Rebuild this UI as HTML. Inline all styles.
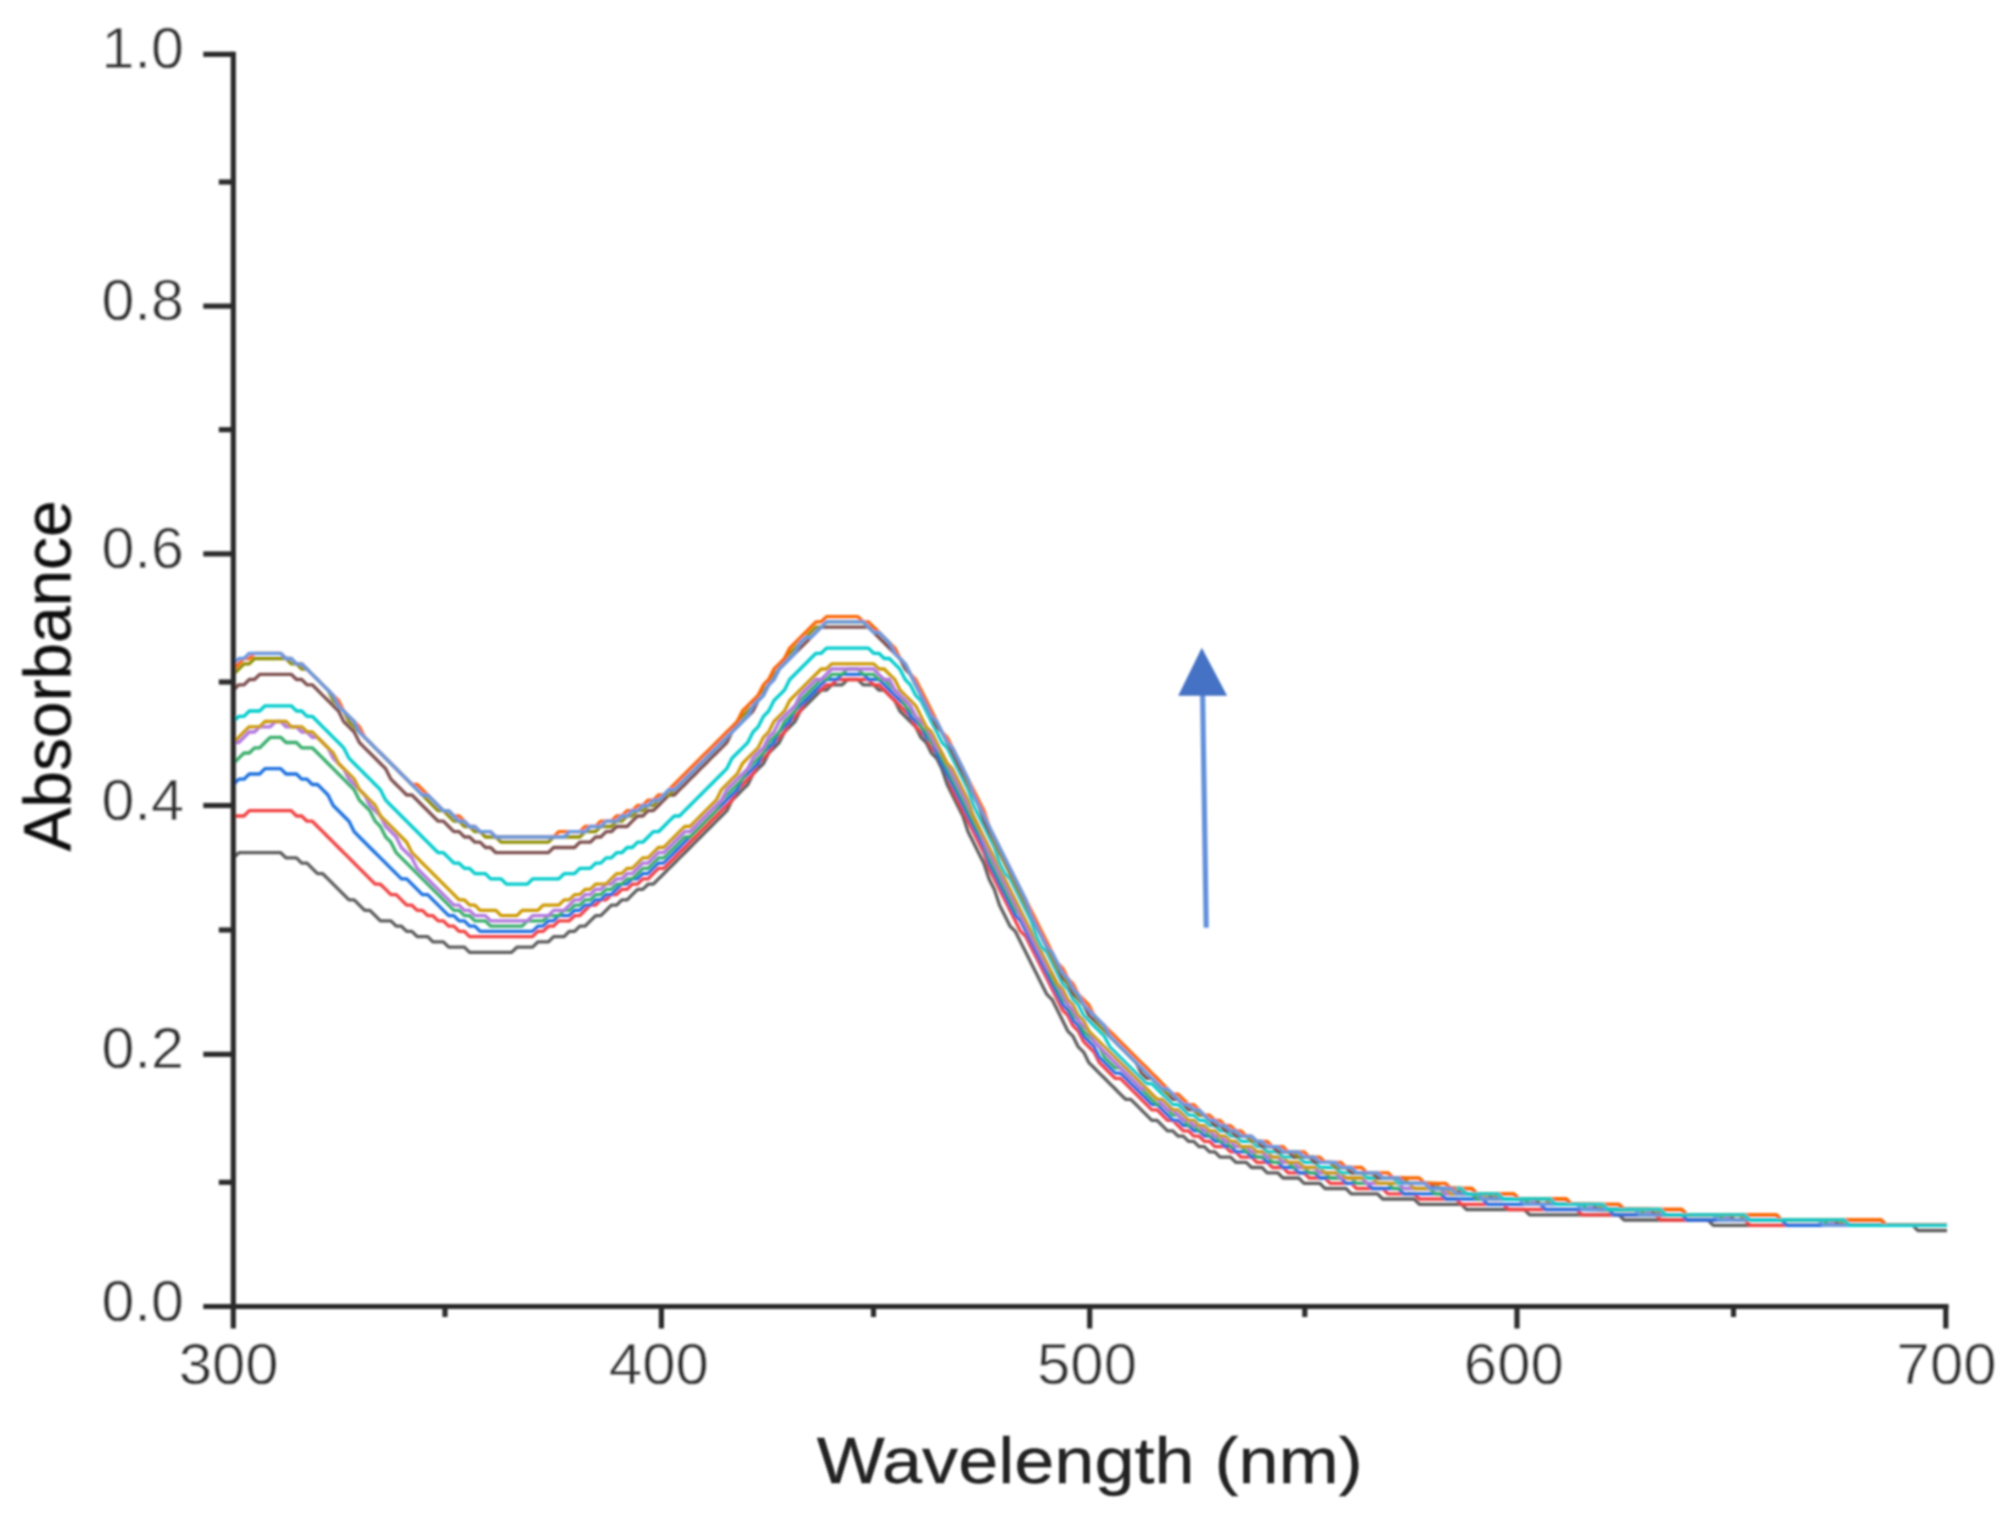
<!DOCTYPE html>
<html lang="en"><head><meta charset="utf-8"><title>UV-Vis absorbance spectra</title>
<style>html,body{margin:0;padding:0;background:#fff;overflow:hidden}svg{display:block}text{font-family:"Liberation Sans",sans-serif}</style></head><body>
<svg width="2015" height="1530" viewBox="0 0 2015 1530">
<defs><filter id="soft" x="-2%" y="-2%" width="104%" height="104%"><feGaussianBlur stdDeviation="1.1"/></filter></defs>
<rect width="2015" height="1530" fill="#fff"/>
<g filter="url(#soft)">
<g fill="none" stroke-width="3.3" stroke-linejoin="round" stroke-linecap="butt">
<path stroke="#5c5c5c" d="M233.5 857.9L238.8 852.7L280.7 852.7L286.0 857.9L296.5 857.9L301.7 863.2L307.0 863.2L312.2 868.4L317.5 873.7L322.7 873.7L328.0 878.9L333.2 884.2L338.5 889.4L343.7 894.7L349.0 899.9L354.2 899.9L359.4 905.2L364.7 910.4L369.9 910.4L375.2 915.7L380.4 920.9L390.9 920.9L396.2 926.2L401.4 926.2L406.7 931.4L411.9 931.4L417.2 936.7L427.7 936.7L432.9 941.9L443.4 941.9L448.7 947.2L464.4 947.2L469.6 952.4L511.6 952.4L516.9 947.2L532.6 947.2L537.9 941.9L548.4 941.9L553.6 936.7L564.1 936.7L569.3 931.4L574.6 931.4L579.8 926.2L585.1 926.2L590.3 920.9L595.6 915.7L600.8 915.7L606.1 910.4L611.3 905.2L616.6 905.2L621.8 899.9L627.1 899.9L632.3 894.7L637.6 889.4L642.8 889.4L648.1 884.2L653.3 884.2L658.5 878.9L663.8 873.7L669.0 868.4L674.3 863.2L679.5 857.9L684.8 852.7L690.0 847.5L695.3 842.2L700.5 837.0L705.8 831.7L711.0 826.5L716.3 821.2L721.5 816.0L726.8 810.7L732.0 800.2L737.3 795.0L742.5 789.7L747.8 784.5L753.0 774.0L758.2 768.7L763.5 763.5L768.7 753.0L774.0 747.8L779.2 742.5L784.5 732.0L789.7 726.8L795.0 721.5L800.2 711.0L805.5 705.8L810.7 700.5L816.0 695.3L821.2 690.0L826.5 690.0L831.7 684.8L842.2 684.8L847.5 679.5L857.9 679.5L863.2 684.8L873.7 684.8L878.9 690.0L884.2 690.0L889.4 695.3L894.7 700.5L899.9 711.0L905.2 716.3L910.4 721.5L915.7 726.8L920.9 737.3L926.2 742.5L931.4 753.0L936.7 758.2L941.9 768.7L947.2 784.5L952.4 795.0L957.6 805.5L962.9 816.0L968.1 831.7L973.4 842.2L978.6 852.7L983.9 863.2L989.1 878.9L994.4 889.4L999.6 905.2L1004.9 915.7L1010.1 926.2L1015.4 931.4L1020.6 941.9L1025.9 952.4L1031.1 962.9L1036.4 973.4L1041.6 983.9L1046.9 994.4L1052.1 999.6L1057.4 1010.1L1062.6 1020.6L1067.8 1031.1L1073.1 1036.4L1078.3 1046.9L1083.6 1052.1L1088.8 1062.6L1094.1 1067.8L1099.3 1073.1L1104.6 1078.3L1109.8 1083.6L1115.1 1088.8L1120.3 1094.1L1125.6 1099.3L1130.8 1099.3L1136.1 1104.6L1141.3 1109.8L1146.6 1115.1L1151.8 1120.3L1157.1 1120.3L1162.3 1125.6L1167.5 1130.8L1172.8 1130.8L1178.0 1136.1L1183.3 1136.1L1188.5 1141.3L1193.8 1141.3L1199.0 1146.6L1204.3 1146.6L1209.5 1151.8L1214.8 1151.8L1220.0 1157.1L1230.5 1157.1L1235.8 1162.3L1246.3 1162.3L1251.5 1167.5L1262.0 1167.5L1267.2 1172.8L1277.7 1172.8L1283.0 1178.0L1298.7 1178.0L1304.0 1183.3L1319.7 1183.3L1325.0 1188.5L1346.0 1188.5L1351.2 1193.8L1377.4 1193.8L1382.7 1199.0L1414.2 1199.0L1419.4 1204.3L1461.4 1204.3L1466.6 1209.5L1524.4 1209.5L1529.6 1214.8L1618.8 1214.8L1624.1 1220.0L1708.0 1220.0L1713.3 1225.3L1912.7 1225.3L1917.9 1230.5L1947.0 1230.5"/>
<path stroke="#F14040" d="M233.5 816.0L244.0 816.0L249.3 810.7L291.2 810.7L296.5 816.0L301.7 816.0L307.0 821.2L312.2 821.2L317.5 826.5L322.7 831.7L328.0 837.0L333.2 842.2L338.5 847.5L343.7 852.7L349.0 857.9L354.2 863.2L359.4 868.4L364.7 873.7L369.9 878.9L375.2 884.2L380.4 884.2L385.7 889.4L390.9 894.7L396.2 894.7L401.4 899.9L406.7 905.2L411.9 905.2L417.2 910.4L422.4 910.4L427.7 915.7L432.9 915.7L438.2 920.9L443.4 920.9L448.7 926.2L453.9 926.2L459.1 931.4L464.4 931.4L469.6 936.7L532.6 936.7L537.9 931.4L543.1 931.4L548.4 926.2L553.6 926.2L558.8 920.9L569.3 920.9L574.6 915.7L579.8 915.7L585.1 910.4L590.3 905.2L595.6 905.2L600.8 899.9L606.1 899.9L611.3 894.7L616.6 894.7L621.8 889.4L627.1 889.4L632.3 884.2L637.6 884.2L642.8 878.9L648.1 878.9L653.3 873.7L658.5 868.4L663.8 868.4L669.0 863.2L674.3 857.9L679.5 852.7L684.8 847.5L690.0 842.2L695.3 837.0L700.5 831.7L705.8 826.5L711.0 821.2L716.3 816.0L721.5 810.7L726.8 805.5L732.0 800.2L737.3 789.7L742.5 784.5L747.8 779.2L753.0 774.0L758.2 763.5L763.5 758.2L768.7 753.0L774.0 742.5L779.2 737.3L784.5 732.0L789.7 721.5L795.0 716.3L800.2 711.0L805.5 700.5L810.7 695.3L816.0 690.0L821.2 690.0L826.5 684.8L831.7 684.8L837.0 679.5L868.4 679.5L873.7 684.8L878.9 684.8L884.2 690.0L889.4 695.3L894.7 700.5L899.9 705.8L905.2 711.0L910.4 716.3L915.7 726.8L920.9 732.0L926.2 737.3L931.4 747.8L936.7 753.0L941.9 763.5L947.2 774.0L952.4 789.7L957.6 800.2L962.9 810.7L968.1 821.2L973.4 831.7L978.6 842.2L983.9 852.7L989.1 868.4L994.4 878.9L999.6 889.4L1004.9 899.9L1010.1 910.4L1015.4 920.9L1020.6 931.4L1025.9 936.7L1031.1 947.2L1036.4 957.6L1041.6 968.1L1046.9 978.6L1052.1 989.1L1057.4 999.6L1062.6 1010.1L1067.8 1015.4L1073.1 1025.9L1078.3 1031.1L1083.6 1041.6L1088.8 1046.9L1094.1 1052.1L1099.3 1062.6L1104.6 1067.8L1109.8 1073.1L1115.1 1078.3L1120.3 1078.3L1125.6 1083.6L1130.8 1088.8L1136.1 1094.1L1141.3 1099.3L1146.6 1104.6L1151.8 1109.8L1157.1 1109.8L1162.3 1115.1L1167.5 1120.3L1172.8 1120.3L1178.0 1125.6L1183.3 1130.8L1188.5 1130.8L1193.8 1136.1L1199.0 1136.1L1204.3 1141.3L1209.5 1141.3L1214.8 1146.6L1225.3 1146.6L1230.5 1151.8L1235.8 1151.8L1241.0 1157.1L1251.5 1157.1L1256.8 1162.3L1267.2 1162.3L1272.5 1167.5L1283.0 1167.5L1288.2 1172.8L1304.0 1172.8L1309.2 1178.0L1325.0 1178.0L1330.2 1183.3L1351.2 1183.3L1356.5 1188.5L1382.7 1188.5L1387.9 1193.8L1414.2 1193.8L1419.4 1199.0L1456.2 1199.0L1461.4 1204.3L1503.4 1204.3L1508.6 1209.5L1576.8 1209.5L1582.1 1214.8L1655.6 1214.8L1660.8 1220.0L1744.8 1220.0L1750.0 1225.3L1947.0 1225.3"/>
<path stroke="#1A6FDF" d="M233.5 784.5L238.8 779.2L244.0 779.2L249.3 774.0L259.7 774.0L265.0 768.7L280.7 768.7L286.0 774.0L296.5 774.0L301.7 779.2L307.0 779.2L312.2 784.5L317.5 784.5L322.7 789.7L328.0 795.0L333.2 805.5L338.5 810.7L343.7 816.0L349.0 821.2L354.2 831.7L359.4 837.0L364.7 842.2L369.9 847.5L375.2 852.7L380.4 857.9L385.7 863.2L390.9 868.4L396.2 873.7L401.4 878.9L406.7 878.9L411.9 884.2L417.2 889.4L422.4 894.7L427.7 894.7L432.9 899.9L438.2 905.2L443.4 910.4L448.7 915.7L453.9 915.7L459.1 920.9L464.4 920.9L469.6 926.2L474.9 926.2L480.1 931.4L532.6 931.4L537.9 926.2L543.1 926.2L548.4 920.9L553.6 920.9L558.8 915.7L569.3 915.7L574.6 910.4L579.8 910.4L585.1 905.2L590.3 905.2L595.6 899.9L600.8 899.9L606.1 894.7L611.3 894.7L616.6 889.4L621.8 884.2L627.1 884.2L632.3 878.9L637.6 878.9L642.8 873.7L648.1 873.7L653.3 868.4L658.5 863.2L663.8 863.2L669.0 857.9L674.3 852.7L679.5 847.5L684.8 842.2L690.0 837.0L695.3 831.7L700.5 826.5L705.8 821.2L711.0 816.0L716.3 810.7L721.5 805.5L726.8 800.2L732.0 795.0L737.3 789.7L742.5 779.2L747.8 774.0L753.0 768.7L758.2 763.5L763.5 753.0L768.7 747.8L774.0 742.5L779.2 732.0L784.5 726.8L789.7 721.5L795.0 711.0L800.2 705.8L805.5 700.5L810.7 695.3L816.0 690.0L821.2 684.8L826.5 679.5L837.0 679.5L842.2 674.3L863.2 674.3L868.4 679.5L878.9 679.5L884.2 684.8L889.4 690.0L894.7 695.3L899.9 700.5L905.2 705.8L910.4 716.3L915.7 721.5L920.9 726.8L926.2 737.3L931.4 742.5L936.7 753.0L941.9 763.5L947.2 774.0L952.4 784.5L957.6 795.0L962.9 805.5L968.1 816.0L973.4 826.5L978.6 837.0L983.9 847.5L989.1 863.2L994.4 873.7L999.6 884.2L1004.9 894.7L1010.1 905.2L1015.4 915.7L1020.6 920.9L1025.9 931.4L1031.1 941.9L1036.4 952.4L1041.6 962.9L1046.9 973.4L1052.1 983.9L1057.4 994.4L1062.6 1004.9L1067.8 1010.1L1073.1 1020.6L1078.3 1025.9L1083.6 1036.4L1088.8 1041.6L1094.1 1046.9L1099.3 1057.4L1104.6 1062.6L1109.8 1067.8L1115.1 1073.1L1120.3 1073.1L1125.6 1078.3L1130.8 1083.6L1136.1 1088.8L1141.3 1094.1L1146.6 1099.3L1151.8 1104.6L1157.1 1104.6L1162.3 1109.8L1167.5 1115.1L1172.8 1120.3L1178.0 1120.3L1183.3 1125.6L1188.5 1125.6L1193.8 1130.8L1199.0 1130.8L1204.3 1136.1L1209.5 1136.1L1214.8 1141.3L1220.0 1141.3L1225.3 1146.6L1230.5 1146.6L1235.8 1151.8L1246.3 1151.8L1251.5 1157.1L1262.0 1157.1L1267.2 1162.3L1277.7 1162.3L1283.0 1167.5L1293.5 1167.5L1298.7 1172.8L1314.5 1172.8L1319.7 1178.0L1340.7 1178.0L1346.0 1183.3L1366.9 1183.3L1372.2 1188.5L1398.4 1188.5L1403.7 1193.8L1440.4 1193.8L1445.7 1199.0L1482.4 1199.0L1487.6 1204.3L1540.1 1204.3L1545.4 1209.5L1608.3 1209.5L1613.6 1214.8L1681.8 1214.8L1687.0 1220.0L1781.5 1220.0L1786.7 1225.3L1947.0 1225.3"/>
<path stroke="#37AD6B" d="M233.5 763.5L238.8 758.2L244.0 753.0L249.3 753.0L254.5 747.8L259.7 747.8L265.0 742.5L270.2 737.3L280.7 737.3L286.0 742.5L296.5 742.5L301.7 747.8L312.2 747.8L317.5 753.0L322.7 758.2L328.0 763.5L333.2 768.7L338.5 774.0L343.7 779.2L349.0 784.5L354.2 789.7L359.4 800.2L364.7 805.5L369.9 810.7L375.2 821.2L380.4 826.5L385.7 837.0L390.9 842.2L396.2 852.7L401.4 857.9L406.7 863.2L411.9 868.4L417.2 873.7L422.4 878.9L427.7 884.2L432.9 889.4L438.2 894.7L443.4 899.9L448.7 905.2L453.9 910.4L459.1 910.4L464.4 915.7L469.6 915.7L474.9 920.9L485.4 920.9L490.6 926.2L522.1 926.2L527.4 920.9L543.1 920.9L548.4 915.7L558.8 915.7L564.1 910.4L569.3 910.4L574.6 905.2L579.8 905.2L585.1 899.9L590.3 899.9L595.6 894.7L600.8 894.7L606.1 889.4L611.3 889.4L616.6 884.2L621.8 884.2L627.1 878.9L632.3 878.9L637.6 873.7L642.8 868.4L648.1 868.4L653.3 863.2L658.5 857.9L663.8 857.9L669.0 852.7L674.3 847.5L679.5 842.2L684.8 837.0L690.0 837.0L695.3 831.7L700.5 826.5L705.8 821.2L711.0 816.0L716.3 810.7L721.5 800.2L726.8 795.0L732.0 789.7L737.3 784.5L742.5 779.2L747.8 768.7L753.0 763.5L758.2 758.2L763.5 753.0L768.7 742.5L774.0 737.3L779.2 732.0L784.5 721.5L789.7 716.3L795.0 711.0L800.2 700.5L805.5 695.3L810.7 690.0L816.0 684.8L821.2 679.5L826.5 679.5L831.7 674.3L842.2 674.3L847.5 669.0L857.9 669.0L863.2 674.3L873.7 674.3L878.9 679.5L884.2 679.5L889.4 684.8L894.7 690.0L899.9 695.3L905.2 705.8L910.4 711.0L915.7 716.3L920.9 726.8L926.2 732.0L931.4 742.5L936.7 747.8L941.9 758.2L947.2 768.7L952.4 779.2L957.6 789.7L962.9 800.2L968.1 810.7L973.4 821.2L978.6 831.7L983.9 842.2L989.1 857.9L994.4 868.4L999.6 878.9L1004.9 889.4L1010.1 899.9L1015.4 910.4L1020.6 915.7L1025.9 926.2L1031.1 936.7L1036.4 947.2L1041.6 957.6L1046.9 968.1L1052.1 978.6L1057.4 989.1L1062.6 999.6L1067.8 1004.9L1073.1 1015.4L1078.3 1020.6L1083.6 1031.1L1088.8 1036.4L1094.1 1041.6L1099.3 1046.9L1104.6 1057.4L1109.8 1062.6L1115.1 1067.8L1120.3 1067.8L1125.6 1073.1L1130.8 1078.3L1136.1 1083.6L1141.3 1088.8L1146.6 1094.1L1151.8 1099.3L1157.1 1104.6L1162.3 1104.6L1167.5 1109.8L1172.8 1115.1L1178.0 1115.1L1183.3 1120.3L1188.5 1125.6L1193.8 1125.6L1199.0 1130.8L1204.3 1130.8L1209.5 1136.1L1214.8 1136.1L1220.0 1141.3L1225.3 1141.3L1230.5 1146.6L1241.0 1146.6L1246.3 1151.8L1251.5 1151.8L1256.8 1157.1L1267.2 1157.1L1272.5 1162.3L1288.2 1162.3L1293.5 1167.5L1304.0 1167.5L1309.2 1172.8L1325.0 1172.8L1330.2 1178.0L1351.2 1178.0L1356.5 1183.3L1387.9 1183.3L1393.2 1188.5L1429.9 1188.5L1435.2 1193.8L1471.9 1193.8L1477.1 1199.0L1524.4 1199.0L1529.6 1204.3L1582.1 1204.3L1587.3 1209.5L1639.8 1209.5L1645.1 1214.8L1718.5 1214.8L1723.8 1220.0L1823.5 1220.0L1828.7 1225.3L1947.0 1225.3"/>
<path stroke="#B177DE" d="M233.5 742.5L238.8 742.5L244.0 737.3L249.3 732.0L254.5 732.0L259.7 726.8L270.2 726.8L275.5 721.5L280.7 721.5L286.0 726.8L296.5 726.8L301.7 732.0L307.0 732.0L312.2 737.3L317.5 737.3L322.7 742.5L328.0 747.8L333.2 758.2L338.5 763.5L343.7 768.7L349.0 779.2L354.2 784.5L359.4 789.7L364.7 795.0L369.9 805.5L375.2 810.7L380.4 816.0L385.7 826.5L390.9 831.7L396.2 837.0L401.4 847.5L406.7 852.7L411.9 857.9L417.2 868.4L422.4 873.7L427.7 878.9L432.9 884.2L438.2 889.4L443.4 894.7L448.7 899.9L453.9 905.2L459.1 905.2L464.4 910.4L469.6 910.4L474.9 915.7L485.4 915.7L490.6 920.9L527.4 920.9L532.6 915.7L548.4 915.7L553.6 910.4L564.1 910.4L569.3 905.2L574.6 899.9L579.8 899.9L585.1 894.7L590.3 894.7L595.6 889.4L600.8 889.4L606.1 884.2L611.3 884.2L616.6 878.9L621.8 878.9L627.1 873.7L632.3 873.7L637.6 868.4L642.8 863.2L648.1 863.2L653.3 857.9L658.5 852.7L663.8 852.7L669.0 847.5L674.3 842.2L679.5 837.0L684.8 831.7L690.0 831.7L695.3 826.5L700.5 821.2L705.8 816.0L711.0 810.7L716.3 805.5L721.5 800.2L726.8 789.7L732.0 784.5L737.3 779.2L742.5 774.0L747.8 768.7L753.0 758.2L758.2 753.0L763.5 747.8L768.7 737.3L774.0 732.0L779.2 721.5L784.5 716.3L789.7 711.0L795.0 705.8L800.2 695.3L805.5 690.0L810.7 684.8L816.0 679.5L821.2 679.5L826.5 674.3L831.7 669.0L873.7 669.0L878.9 674.3L884.2 679.5L889.4 679.5L894.7 690.0L899.9 695.3L905.2 700.5L910.4 705.8L915.7 716.3L920.9 721.5L926.2 726.8L931.4 737.3L936.7 747.8L941.9 753.0L947.2 763.5L952.4 774.0L957.6 784.5L962.9 795.0L968.1 805.5L973.4 816.0L978.6 826.5L983.9 842.2L989.1 852.7L994.4 863.2L999.6 873.7L1004.9 884.2L1010.1 894.7L1015.4 905.2L1020.6 915.7L1025.9 926.2L1031.1 936.7L1036.4 947.2L1041.6 957.6L1046.9 968.1L1052.1 973.4L1057.4 983.9L1062.6 994.4L1067.8 1004.9L1073.1 1010.1L1078.3 1020.6L1083.6 1025.9L1088.8 1031.1L1094.1 1041.6L1099.3 1046.9L1104.6 1052.1L1109.8 1057.4L1115.1 1062.6L1120.3 1067.8L1125.6 1073.1L1130.8 1078.3L1136.1 1083.6L1141.3 1088.8L1146.6 1088.8L1151.8 1094.1L1157.1 1099.3L1162.3 1104.6L1167.5 1109.8L1172.8 1109.8L1178.0 1115.1L1183.3 1120.3L1188.5 1120.3L1193.8 1125.6L1199.0 1125.6L1204.3 1130.8L1209.5 1130.8L1214.8 1136.1L1220.0 1136.1L1225.3 1141.3L1230.5 1141.3L1235.8 1146.6L1246.3 1146.6L1251.5 1151.8L1262.0 1151.8L1267.2 1157.1L1277.7 1157.1L1283.0 1162.3L1293.5 1162.3L1298.7 1167.5L1314.5 1167.5L1319.7 1172.8L1335.5 1172.8L1340.7 1178.0L1361.7 1178.0L1366.9 1183.3L1398.4 1183.3L1403.7 1188.5L1440.4 1188.5L1445.7 1193.8L1477.1 1193.8L1482.4 1199.0L1529.6 1199.0L1534.9 1204.3L1587.3 1204.3L1592.6 1209.5L1645.1 1209.5L1650.3 1214.8L1723.8 1214.8L1729.0 1220.0L1828.7 1220.0L1834.0 1225.3L1947.0 1225.3"/>
<path stroke="#CC9900" d="M233.5 742.5L238.8 737.3L244.0 732.0L249.3 726.8L259.7 726.8L265.0 721.5L286.0 721.5L291.2 726.8L301.7 726.8L307.0 732.0L312.2 732.0L317.5 737.3L322.7 742.5L328.0 747.8L333.2 753.0L338.5 763.5L343.7 768.7L349.0 774.0L354.2 779.2L359.4 789.7L364.7 795.0L369.9 800.2L375.2 805.5L380.4 816.0L385.7 821.2L390.9 826.5L396.2 831.7L401.4 837.0L406.7 842.2L411.9 852.7L417.2 857.9L422.4 863.2L427.7 868.4L432.9 873.7L438.2 878.9L443.4 884.2L448.7 889.4L453.9 894.7L459.1 899.9L464.4 899.9L469.6 905.2L474.9 905.2L480.1 910.4L495.9 910.4L501.1 915.7L516.9 915.7L522.1 910.4L537.9 910.4L543.1 905.2L558.8 905.2L564.1 899.9L569.3 899.9L574.6 894.7L579.8 894.7L585.1 889.4L590.3 889.4L595.6 884.2L606.1 884.2L611.3 878.9L616.6 873.7L621.8 873.7L627.1 868.4L632.3 868.4L637.6 863.2L642.8 857.9L648.1 857.9L653.3 852.7L658.5 847.5L663.8 847.5L669.0 842.2L674.3 837.0L679.5 831.7L684.8 826.5L690.0 826.5L695.3 821.2L700.5 816.0L705.8 810.7L711.0 805.5L716.3 800.2L721.5 789.7L726.8 784.5L732.0 779.2L737.3 774.0L742.5 763.5L747.8 758.2L753.0 753.0L758.2 747.8L763.5 737.3L768.7 732.0L774.0 721.5L779.2 716.3L784.5 711.0L789.7 700.5L795.0 695.3L800.2 690.0L805.5 684.8L810.7 679.5L816.0 674.3L821.2 669.0L826.5 669.0L831.7 663.8L873.7 663.8L878.9 669.0L884.2 669.0L889.4 674.3L894.7 679.5L899.9 690.0L905.2 695.3L910.4 700.5L915.7 705.8L920.9 716.3L926.2 726.8L931.4 732.0L936.7 742.5L941.9 753.0L947.2 763.5L952.4 768.7L957.6 779.2L962.9 789.7L968.1 800.2L973.4 816.0L978.6 826.5L983.9 837.0L989.1 847.5L994.4 857.9L999.6 868.4L1004.9 878.9L1010.1 889.4L1015.4 899.9L1020.6 910.4L1025.9 920.9L1031.1 931.4L1036.4 941.9L1041.6 952.4L1046.9 962.9L1052.1 973.4L1057.4 983.9L1062.6 989.1L1067.8 999.6L1073.1 1004.9L1078.3 1015.4L1083.6 1020.6L1088.8 1031.1L1094.1 1036.4L1099.3 1041.6L1104.6 1046.9L1109.8 1052.1L1115.1 1057.4L1120.3 1062.6L1125.6 1067.8L1130.8 1073.1L1136.1 1078.3L1141.3 1083.6L1146.6 1088.8L1151.8 1094.1L1157.1 1099.3L1162.3 1099.3L1167.5 1104.6L1172.8 1109.8L1178.0 1109.8L1183.3 1115.1L1188.5 1120.3L1193.8 1120.3L1199.0 1125.6L1204.3 1125.6L1209.5 1130.8L1214.8 1130.8L1220.0 1136.1L1225.3 1136.1L1230.5 1141.3L1235.8 1141.3L1241.0 1146.6L1251.5 1146.6L1256.8 1151.8L1267.2 1151.8L1272.5 1157.1L1283.0 1157.1L1288.2 1162.3L1298.7 1162.3L1304.0 1167.5L1319.7 1167.5L1325.0 1172.8L1340.7 1172.8L1346.0 1178.0L1372.2 1178.0L1377.4 1183.3L1408.9 1183.3L1414.2 1188.5L1445.7 1188.5L1450.9 1193.8L1482.4 1193.8L1487.6 1199.0L1534.9 1199.0L1540.1 1204.3L1592.6 1204.3L1597.8 1209.5L1650.3 1209.5L1655.6 1214.8L1729.0 1214.8L1734.3 1220.0L1834.0 1220.0L1839.2 1225.3L1947.0 1225.3"/>
<path stroke="#00CBCC" d="M233.5 721.5L238.8 716.3L244.0 716.3L249.3 711.0L259.7 711.0L265.0 705.8L291.2 705.8L296.5 711.0L301.7 711.0L307.0 716.3L312.2 716.3L317.5 721.5L322.7 726.8L328.0 732.0L333.2 737.3L338.5 742.5L343.7 747.8L349.0 758.2L354.2 763.5L359.4 768.7L364.7 774.0L369.9 779.2L375.2 784.5L380.4 789.7L385.7 800.2L390.9 805.5L396.2 810.7L401.4 816.0L406.7 821.2L411.9 826.5L417.2 831.7L422.4 837.0L427.7 842.2L432.9 847.5L438.2 852.7L443.4 852.7L448.7 857.9L453.9 863.2L459.1 863.2L464.4 868.4L469.6 868.4L474.9 873.7L485.4 873.7L490.6 878.9L501.1 878.9L506.4 884.2L527.4 884.2L532.6 878.9L558.8 878.9L564.1 873.7L574.6 873.7L579.8 868.4L590.3 868.4L595.6 863.2L600.8 863.2L606.1 857.9L611.3 857.9L616.6 852.7L621.8 852.7L627.1 847.5L632.3 847.5L637.6 842.2L642.8 842.2L648.1 837.0L653.3 831.7L658.5 831.7L663.8 826.5L669.0 821.2L674.3 816.0L679.5 816.0L684.8 810.7L690.0 805.5L695.3 800.2L700.5 795.0L705.8 789.7L711.0 784.5L716.3 779.2L721.5 774.0L726.8 768.7L732.0 758.2L737.3 753.0L742.5 747.8L747.8 742.5L753.0 732.0L758.2 726.8L763.5 716.3L768.7 711.0L774.0 700.5L779.2 695.3L784.5 690.0L789.7 679.5L795.0 674.3L800.2 669.0L805.5 663.8L810.7 658.5L816.0 653.3L821.2 653.3L826.5 648.1L868.4 648.1L873.7 653.3L878.9 653.3L884.2 658.5L889.4 658.5L894.7 663.8L899.9 669.0L905.2 679.5L910.4 684.8L915.7 695.3L920.9 700.5L926.2 711.0L931.4 721.5L936.7 732.0L941.9 742.5L947.2 747.8L952.4 758.2L957.6 768.7L962.9 779.2L968.1 789.7L973.4 805.5L978.6 816.0L983.9 826.5L989.1 837.0L994.4 847.5L999.6 863.2L1004.9 873.7L1010.1 878.9L1015.4 889.4L1020.6 899.9L1025.9 910.4L1031.1 920.9L1036.4 936.7L1041.6 947.2L1046.9 952.4L1052.1 962.9L1057.4 973.4L1062.6 983.9L1067.8 989.1L1073.1 999.6L1078.3 1004.9L1083.6 1015.4L1088.8 1020.6L1094.1 1025.9L1099.3 1031.1L1104.6 1036.4L1109.8 1046.9L1115.1 1052.1L1120.3 1057.4L1125.6 1062.6L1130.8 1067.8L1136.1 1073.1L1141.3 1078.3L1146.6 1083.6L1151.8 1083.6L1157.1 1088.8L1162.3 1094.1L1167.5 1099.3L1172.8 1104.6L1178.0 1104.6L1183.3 1109.8L1188.5 1115.1L1193.8 1115.1L1199.0 1120.3L1204.3 1120.3L1209.5 1125.6L1214.8 1125.6L1220.0 1130.8L1225.3 1130.8L1230.5 1136.1L1235.8 1136.1L1241.0 1141.3L1251.5 1141.3L1256.8 1146.6L1262.0 1146.6L1267.2 1151.8L1277.7 1151.8L1283.0 1157.1L1298.7 1157.1L1304.0 1162.3L1314.5 1162.3L1319.7 1167.5L1335.5 1167.5L1340.7 1172.8L1361.7 1172.8L1366.9 1178.0L1393.2 1178.0L1398.4 1183.3L1429.9 1183.3L1435.2 1188.5L1461.4 1188.5L1466.6 1193.8L1498.1 1193.8L1503.4 1199.0L1550.6 1199.0L1555.9 1204.3L1603.1 1204.3L1608.3 1209.5L1660.8 1209.5L1666.0 1214.8L1744.8 1214.8L1750.0 1220.0L1844.5 1220.0L1849.7 1225.3L1947.0 1225.3"/>
<path stroke="#7D4E4E" d="M233.5 690.0L238.8 684.8L244.0 684.8L249.3 679.5L254.5 679.5L259.7 674.3L291.2 674.3L296.5 679.5L301.7 679.5L307.0 684.8L312.2 684.8L317.5 690.0L322.7 695.3L328.0 700.5L333.2 705.8L338.5 711.0L343.7 721.5L349.0 726.8L354.2 732.0L359.4 742.5L364.7 747.8L369.9 753.0L375.2 758.2L380.4 763.5L385.7 768.7L390.9 779.2L396.2 784.5L401.4 789.7L406.7 795.0L411.9 795.0L417.2 800.2L422.4 805.5L427.7 810.7L432.9 816.0L438.2 821.2L443.4 821.2L448.7 826.5L453.9 831.7L459.1 831.7L464.4 837.0L469.6 837.0L474.9 842.2L480.1 842.2L485.4 847.5L490.6 847.5L495.9 852.7L548.4 852.7L553.6 847.5L574.6 847.5L579.8 842.2L590.3 842.2L595.6 837.0L600.8 837.0L606.1 831.7L611.3 831.7L616.6 826.5L627.1 826.5L632.3 821.2L637.6 816.0L642.8 816.0L648.1 810.7L653.3 810.7L658.5 805.5L663.8 800.2L669.0 795.0L674.3 795.0L679.5 789.7L684.8 784.5L690.0 779.2L695.3 774.0L700.5 768.7L705.8 763.5L711.0 758.2L716.3 753.0L721.5 747.8L726.8 742.5L732.0 732.0L737.3 726.8L742.5 721.5L747.8 716.3L753.0 711.0L758.2 700.5L763.5 695.3L768.7 684.8L774.0 679.5L779.2 669.0L784.5 663.8L789.7 658.5L795.0 653.3L800.2 648.1L805.5 642.8L810.7 637.6L816.0 632.3L821.2 627.1L868.4 627.1L873.7 632.3L878.9 637.6L884.2 642.8L889.4 648.1L894.7 653.3L899.9 658.5L905.2 669.0L910.4 674.3L915.7 684.8L920.9 695.3L926.2 705.8L931.4 716.3L936.7 726.8L941.9 732.0L947.2 742.5L952.4 753.0L957.6 763.5L962.9 774.0L968.1 784.5L973.4 795.0L978.6 805.5L983.9 821.2L989.1 831.7L994.4 842.2L999.6 852.7L1004.9 863.2L1010.1 873.7L1015.4 884.2L1020.6 894.7L1025.9 905.2L1031.1 915.7L1036.4 926.2L1041.6 936.7L1046.9 947.2L1052.1 957.6L1057.4 968.1L1062.6 978.6L1067.8 983.9L1073.1 994.4L1078.3 999.6L1083.6 1004.9L1088.8 1015.4L1094.1 1020.6L1099.3 1025.9L1104.6 1031.1L1109.8 1036.4L1115.1 1041.6L1120.3 1046.9L1125.6 1052.1L1130.8 1057.4L1136.1 1062.6L1141.3 1073.1L1146.6 1078.3L1151.8 1078.3L1157.1 1083.6L1162.3 1088.8L1167.5 1094.1L1172.8 1099.3L1178.0 1099.3L1183.3 1104.6L1188.5 1109.8L1193.8 1109.8L1199.0 1115.1L1204.3 1115.1L1209.5 1120.3L1214.8 1125.6L1220.0 1125.6L1225.3 1130.8L1230.5 1130.8L1235.8 1136.1L1246.3 1136.1L1251.5 1141.3L1256.8 1141.3L1262.0 1146.6L1272.5 1146.6L1277.7 1151.8L1288.2 1151.8L1293.5 1157.1L1309.2 1157.1L1314.5 1162.3L1330.2 1162.3L1335.5 1167.5L1346.0 1167.5L1351.2 1172.8L1372.2 1172.8L1377.4 1178.0L1398.4 1178.0L1403.7 1183.3L1429.9 1183.3L1435.2 1188.5L1456.2 1188.5L1461.4 1193.8L1487.6 1193.8L1492.9 1199.0L1534.9 1199.0L1540.1 1204.3L1592.6 1204.3L1597.8 1209.5L1650.3 1209.5L1655.6 1214.8L1729.0 1214.8L1734.3 1220.0L1834.0 1220.0L1839.2 1225.3L1947.0 1225.3"/>
<path stroke="#8E8E00" d="M233.5 674.3L238.8 669.0L244.0 663.8L249.3 663.8L254.5 658.5L286.0 658.5L291.2 663.8L296.5 663.8L301.7 669.0L307.0 669.0L312.2 674.3L317.5 679.5L322.7 684.8L328.0 690.0L333.2 700.5L338.5 705.8L343.7 711.0L349.0 721.5L354.2 726.8L359.4 732.0L364.7 737.3L369.9 742.5L375.2 747.8L380.4 753.0L385.7 758.2L390.9 763.5L396.2 768.7L401.4 774.0L406.7 779.2L411.9 784.5L417.2 789.7L422.4 795.0L427.7 800.2L432.9 805.5L438.2 810.7L443.4 810.7L448.7 816.0L453.9 821.2L459.1 821.2L464.4 826.5L469.6 826.5L474.9 831.7L480.1 831.7L485.4 837.0L495.9 837.0L501.1 842.2L548.4 842.2L553.6 837.0L579.8 837.0L585.1 831.7L595.6 831.7L600.8 826.5L611.3 826.5L616.6 821.2L621.8 821.2L627.1 816.0L632.3 816.0L637.6 810.7L642.8 810.7L648.1 805.5L653.3 805.5L658.5 800.2L663.8 795.0L669.0 795.0L674.3 789.7L679.5 784.5L684.8 779.2L690.0 774.0L695.3 768.7L700.5 763.5L705.8 758.2L711.0 753.0L716.3 747.8L721.5 742.5L726.8 737.3L732.0 732.0L737.3 721.5L742.5 716.3L747.8 711.0L753.0 705.8L758.2 695.3L763.5 690.0L768.7 684.8L774.0 674.3L779.2 669.0L784.5 658.5L789.7 653.3L795.0 648.1L800.2 642.8L805.5 637.6L810.7 632.3L816.0 627.1L821.2 627.1L826.5 621.8L863.2 621.8L868.4 627.1L873.7 627.1L878.9 632.3L884.2 637.6L889.4 642.8L894.7 648.1L899.9 658.5L905.2 663.8L910.4 674.3L915.7 684.8L920.9 690.0L926.2 700.5L931.4 711.0L936.7 721.5L941.9 732.0L947.2 742.5L952.4 747.8L957.6 758.2L962.9 768.7L968.1 784.5L973.4 795.0L978.6 805.5L983.9 816.0L989.1 826.5L994.4 842.2L999.6 852.7L1004.9 863.2L1010.1 873.7L1015.4 884.2L1020.6 894.7L1025.9 905.2L1031.1 915.7L1036.4 926.2L1041.6 936.7L1046.9 947.2L1052.1 957.6L1057.4 968.1L1062.6 973.4L1067.8 983.9L1073.1 989.1L1078.3 999.6L1083.6 1004.9L1088.8 1010.1L1094.1 1015.4L1099.3 1025.9L1104.6 1031.1L1109.8 1036.4L1115.1 1041.6L1120.3 1046.9L1125.6 1052.1L1130.8 1057.4L1136.1 1062.6L1141.3 1067.8L1146.6 1073.1L1151.8 1078.3L1157.1 1083.6L1162.3 1088.8L1167.5 1094.1L1172.8 1094.1L1178.0 1099.3L1183.3 1104.6L1188.5 1104.6L1193.8 1109.8L1199.0 1115.1L1204.3 1115.1L1209.5 1120.3L1214.8 1120.3L1220.0 1125.6L1225.3 1125.6L1230.5 1130.8L1235.8 1130.8L1241.0 1136.1L1246.3 1136.1L1251.5 1141.3L1262.0 1141.3L1267.2 1146.6L1277.7 1146.6L1283.0 1151.8L1293.5 1151.8L1298.7 1157.1L1314.5 1157.1L1319.7 1162.3L1330.2 1162.3L1335.5 1167.5L1351.2 1167.5L1356.5 1172.8L1377.4 1172.8L1382.7 1178.0L1403.7 1178.0L1408.9 1183.3L1435.2 1183.3L1440.4 1188.5L1461.4 1188.5L1466.6 1193.8L1492.9 1193.8L1498.1 1199.0L1545.4 1199.0L1550.6 1204.3L1597.8 1204.3L1603.1 1209.5L1655.6 1209.5L1660.8 1214.8L1739.5 1214.8L1744.8 1220.0L1839.2 1220.0L1844.5 1225.3L1947.0 1225.3"/>
<path stroke="#FB6501" d="M233.5 669.0L238.8 663.8L244.0 658.5L249.3 658.5L254.5 653.3L280.7 653.3L286.0 658.5L291.2 658.5L296.5 663.8L301.7 663.8L307.0 669.0L312.2 674.3L317.5 679.5L322.7 684.8L328.0 690.0L333.2 695.3L338.5 700.5L343.7 711.0L349.0 716.3L354.2 721.5L359.4 726.8L364.7 737.3L369.9 742.5L375.2 747.8L380.4 753.0L385.7 758.2L390.9 763.5L396.2 768.7L401.4 774.0L406.7 779.2L411.9 784.5L417.2 784.5L422.4 789.7L427.7 795.0L432.9 800.2L438.2 805.5L443.4 810.7L448.7 810.7L453.9 816.0L459.1 816.0L464.4 821.2L469.6 826.5L474.9 826.5L480.1 831.7L490.6 831.7L495.9 837.0L553.6 837.0L558.8 831.7L579.8 831.7L585.1 826.5L595.6 826.5L600.8 821.2L611.3 821.2L616.6 816.0L621.8 816.0L627.1 810.7L632.3 810.7L637.6 805.5L642.8 805.5L648.1 800.2L653.3 800.2L658.5 795.0L663.8 795.0L669.0 789.7L674.3 784.5L679.5 779.2L684.8 774.0L690.0 768.7L695.3 763.5L700.5 758.2L705.8 753.0L711.0 747.8L716.3 742.5L721.5 737.3L726.8 732.0L732.0 726.8L737.3 721.5L742.5 711.0L747.8 705.8L753.0 700.5L758.2 695.3L763.5 684.8L768.7 679.5L774.0 669.0L779.2 663.8L784.5 658.5L789.7 648.1L795.0 642.8L800.2 637.6L805.5 632.3L810.7 627.1L816.0 621.8L821.2 621.8L826.5 616.6L857.9 616.6L863.2 621.8L868.4 621.8L873.7 627.1L878.9 632.3L884.2 637.6L889.4 642.8L894.7 648.1L899.9 658.5L905.2 663.8L910.4 674.3L915.7 679.5L920.9 690.0L926.2 700.5L931.4 711.0L936.7 721.5L941.9 732.0L947.2 737.3L952.4 747.8L957.6 758.2L962.9 768.7L968.1 779.2L973.4 789.7L978.6 800.2L983.9 810.7L989.1 826.5L994.4 837.0L999.6 847.5L1004.9 857.9L1010.1 868.4L1015.4 878.9L1020.6 889.4L1025.9 899.9L1031.1 910.4L1036.4 920.9L1041.6 931.4L1046.9 941.9L1052.1 952.4L1057.4 962.9L1062.6 968.1L1067.8 978.6L1073.1 983.9L1078.3 994.4L1083.6 999.6L1088.8 1004.9L1094.1 1015.4L1099.3 1020.6L1104.6 1025.9L1109.8 1031.1L1115.1 1036.4L1120.3 1041.6L1125.6 1046.9L1130.8 1052.1L1136.1 1057.4L1141.3 1062.6L1146.6 1067.8L1151.8 1073.1L1157.1 1078.3L1162.3 1083.6L1167.5 1088.8L1172.8 1094.1L1178.0 1094.1L1183.3 1099.3L1188.5 1104.6L1193.8 1104.6L1199.0 1109.8L1204.3 1115.1L1209.5 1115.1L1214.8 1120.3L1220.0 1120.3L1225.3 1125.6L1230.5 1125.6L1235.8 1130.8L1241.0 1130.8L1246.3 1136.1L1251.5 1136.1L1256.8 1141.3L1267.2 1141.3L1272.5 1146.6L1283.0 1146.6L1288.2 1151.8L1304.0 1151.8L1309.2 1157.1L1319.7 1157.1L1325.0 1162.3L1340.7 1162.3L1346.0 1167.5L1361.7 1167.5L1366.9 1172.8L1387.9 1172.8L1393.2 1178.0L1419.4 1178.0L1424.7 1183.3L1445.7 1183.3L1450.9 1188.5L1471.9 1188.5L1477.1 1193.8L1513.9 1193.8L1519.1 1199.0L1566.3 1199.0L1571.6 1204.3L1618.8 1204.3L1624.1 1209.5L1681.8 1209.5L1687.0 1214.8L1776.2 1214.8L1781.5 1220.0L1881.2 1220.0L1886.4 1225.3L1947.0 1225.3"/>
<path stroke="#6699E0" d="M233.5 663.8L238.8 658.5L244.0 658.5L249.3 653.3L280.7 653.3L286.0 658.5L291.2 658.5L296.5 663.8L301.7 663.8L307.0 669.0L312.2 674.3L317.5 679.5L322.7 684.8L328.0 690.0L333.2 695.3L338.5 705.8L343.7 711.0L349.0 716.3L354.2 721.5L359.4 732.0L364.7 737.3L369.9 742.5L375.2 747.8L380.4 753.0L385.7 758.2L390.9 763.5L396.2 768.7L401.4 774.0L406.7 779.2L411.9 784.5L417.2 789.7L422.4 795.0L427.7 795.0L432.9 800.2L438.2 805.5L443.4 810.7L448.7 810.7L453.9 816.0L459.1 821.2L464.4 821.2L469.6 826.5L474.9 826.5L480.1 831.7L490.6 831.7L495.9 837.0L564.1 837.0L569.3 831.7L585.1 831.7L590.3 826.5L600.8 826.5L606.1 821.2L616.6 821.2L621.8 816.0L627.1 816.0L632.3 810.7L637.6 810.7L642.8 805.5L648.1 805.5L653.3 800.2L658.5 800.2L663.8 795.0L669.0 789.7L674.3 789.7L679.5 784.5L684.8 779.2L690.0 774.0L695.3 768.7L700.5 763.5L705.8 758.2L711.0 753.0L716.3 747.8L721.5 742.5L726.8 737.3L732.0 732.0L737.3 726.8L742.5 721.5L747.8 716.3L753.0 705.8L758.2 700.5L763.5 695.3L768.7 684.8L774.0 679.5L779.2 669.0L784.5 663.8L789.7 658.5L795.0 653.3L800.2 642.8L805.5 637.6L810.7 637.6L816.0 632.3L821.2 627.1L826.5 621.8L863.2 621.8L868.4 627.1L873.7 632.3L878.9 632.3L884.2 637.6L889.4 642.8L894.7 653.3L899.9 658.5L905.2 663.8L910.4 674.3L915.7 684.8L920.9 695.3L926.2 705.8L931.4 716.3L936.7 721.5L941.9 732.0L947.2 742.5L952.4 747.8L957.6 758.2L962.9 768.7L968.1 779.2L973.4 795.0L978.6 805.5L983.9 816.0L989.1 826.5L994.4 837.0L999.6 847.5L1004.9 857.9L1010.1 868.4L1015.4 878.9L1020.6 889.4L1025.9 899.9L1031.1 915.7L1036.4 926.2L1041.6 936.7L1046.9 947.2L1052.1 952.4L1057.4 962.9L1062.6 973.4L1067.8 978.6L1073.1 989.1L1078.3 994.4L1083.6 1004.9L1088.8 1010.1L1094.1 1015.4L1099.3 1020.6L1104.6 1025.9L1109.8 1036.4L1115.1 1041.6L1120.3 1046.9L1125.6 1052.1L1130.8 1057.4L1136.1 1062.6L1141.3 1067.8L1146.6 1073.1L1151.8 1078.3L1157.1 1083.6L1162.3 1088.8L1167.5 1088.8L1172.8 1094.1L1178.0 1099.3L1183.3 1104.6L1188.5 1104.6L1193.8 1109.8L1199.0 1109.8L1204.3 1115.1L1209.5 1120.3L1214.8 1120.3L1220.0 1125.6L1225.3 1125.6L1230.5 1130.8L1235.8 1130.8L1241.0 1136.1L1251.5 1136.1L1256.8 1141.3L1262.0 1141.3L1267.2 1146.6L1277.7 1146.6L1283.0 1151.8L1298.7 1151.8L1304.0 1157.1L1314.5 1157.1L1319.7 1162.3L1335.5 1162.3L1340.7 1167.5L1351.2 1167.5L1356.5 1172.8L1377.4 1172.8L1382.7 1178.0L1398.4 1178.0L1403.7 1183.3L1424.7 1183.3L1429.9 1188.5L1450.9 1188.5L1456.2 1193.8L1477.1 1193.8L1482.4 1199.0L1519.1 1199.0L1524.4 1204.3L1576.8 1204.3L1582.1 1209.5L1634.6 1209.5L1639.8 1214.8L1713.3 1214.8L1718.5 1220.0L1818.2 1220.0L1823.5 1225.3L1947.0 1225.3"/>
<path stroke="#FB6501" d="M1456.2 1188.5L1471.9 1188.5L1477.1 1193.8L1513.9 1193.8L1519.1 1199.0L1566.3 1199.0L1571.6 1204.3L1618.8 1204.3L1624.1 1209.5L1681.8 1209.5L1687.0 1214.8L1776.2 1214.8L1781.5 1220.0L1881.2 1220.0L1886.4 1225.3L1947.0 1225.3"/>
<path stroke="#00CBCC" d="M1456.2 1188.5L1461.4 1188.5L1466.6 1193.8L1498.1 1193.8L1503.4 1199.0L1550.6 1199.0L1555.9 1204.3L1603.1 1204.3L1608.3 1209.5L1660.8 1209.5L1666.0 1214.8L1744.8 1214.8L1750.0 1220.0L1844.5 1220.0L1849.7 1225.3L1947.0 1225.3"/>
</g>
<g stroke="#2b2b2b" stroke-width="5.2" fill="none" stroke-linecap="butt">
<path d="M233.3 51.7 V1328.5"/>
<path d="M203.3 1306.5 H1948.6"/>
<path d="M203.3 1054.3 H233.3"/>
<path d="M203.3 805.5 H233.3"/>
<path d="M203.3 553.9 H233.3"/>
<path d="M203.3 306.1 H233.3"/>
<path d="M203.3 54.3 H233.3"/>
<path d="M218.8 1182.3 H233.3"/>
<path d="M218.8 930.0 H233.3"/>
<path d="M218.8 682.0 H233.3"/>
<path d="M218.8 429.7 H233.3"/>
<path d="M218.8 182.0 H233.3"/>
<path d="M661.4 1306.5 V1328.5"/>
<path d="M1089.7 1306.5 V1328.5"/>
<path d="M1517.0 1306.5 V1328.5"/>
<path d="M1945.8 1306.5 V1328.5"/>
<path d="M445.0 1306.5 V1317.0"/>
<path d="M873.5 1306.5 V1317.0"/>
<path d="M1304.8 1306.5 V1317.0"/>
<path d="M1733.5 1306.5 V1317.0"/>
</g>
<g fill="#333" font-size="56.5" stroke="#fff" stroke-width="0.4">
<text x="183.9" y="1320.6" text-anchor="end" textLength="82.3" lengthAdjust="spacingAndGlyphs">0.0</text>
<text x="183.9" y="1068.3" text-anchor="end" textLength="82.3" lengthAdjust="spacingAndGlyphs">0.2</text>
<text x="183.9" y="819.5" text-anchor="end" textLength="82.3" lengthAdjust="spacingAndGlyphs">0.4</text>
<text x="183.9" y="567.9" text-anchor="end" textLength="82.3" lengthAdjust="spacingAndGlyphs">0.6</text>
<text x="183.9" y="320.1" text-anchor="end" textLength="82.3" lengthAdjust="spacingAndGlyphs">0.8</text>
<text x="183.9" y="68.3" text-anchor="end" textLength="82.3" lengthAdjust="spacingAndGlyphs">1.0</text>
<text x="228.7" y="1383.7" text-anchor="middle" textLength="100" lengthAdjust="spacingAndGlyphs">300</text>
<text x="658.8" y="1383.7" text-anchor="middle" textLength="100" lengthAdjust="spacingAndGlyphs">400</text>
<text x="1087.0" y="1383.7" text-anchor="middle" textLength="100" lengthAdjust="spacingAndGlyphs">500</text>
<text x="1513.8" y="1383.7" text-anchor="middle" textLength="100" lengthAdjust="spacingAndGlyphs">600</text>
<text x="1946.6" y="1383.7" text-anchor="middle" textLength="100" lengthAdjust="spacingAndGlyphs">700</text>
</g>
<text x="1089.7" y="1483.2" text-anchor="middle" font-size="65.3" fill="#222" stroke="#222" stroke-width="0.3" textLength="546" lengthAdjust="spacingAndGlyphs">Wavelength (nm)</text>
<g transform="translate(70.6 675.9) scale(1.02 1) rotate(-90)"><text x="0" y="0" text-anchor="middle" font-size="65.8" fill="#111" stroke="#111" stroke-width="0.35">Absorbance</text></g>
<path d="M1202.6 693 L1206.2 927.8" stroke="#6490da" stroke-width="5.2" fill="none"/>
<path d="M1201.8 647.8 L1227.1 695.8 L1178.2 695.8 Z" fill="#4472C4"/>
</g>
</svg></body></html>
